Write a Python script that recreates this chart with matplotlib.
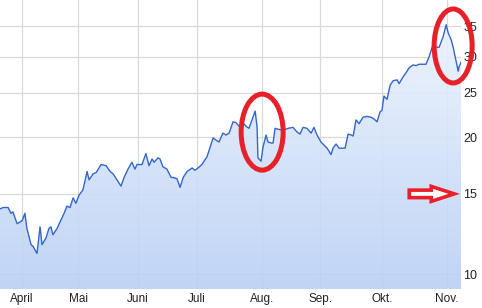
import numpy as np
import matplotlib
matplotlib.use("Agg")
import matplotlib.pyplot as plt
from matplotlib.colors import LinearSegmentedColormap
from matplotlib.patches import Polygon, Ellipse, FancyArrow
from matplotlib.transforms import IdentityTransform
from matplotlib.ticker import NullLocator

# Handelstage (Index ab Mitte März) und Schlusskurs
tage = [0.0, 1.1, 2.9, 3.9, 4.6, 6.1, 7.9, 8.9, 9.6, 11.1, 11.8, 13.2, 14.3, 15.0,
        16.4, 17.5, 18.2, 18.9, 20.4, 21.4, 22.9, 23.9, 25.0, 26.1, 27.1, 28.2,
        29.6, 31.1, 31.8, 33.2, 34.3, 36.1, 37.9, 39.3, 40.4, 43.2, 44.3, 45.7,
        47.1, 48.2, 48.9, 50.7, 52.1, 53.2, 54.3, 55.0, 56.4, 57.1, 58.2, 59.6,
        61.1, 61.8, 63.2, 64.3, 65.4, 66.8, 68.6, 69.6, 70.7, 72.1, 73.9, 76.1,
        77.1, 78.2, 79.6, 80.7, 81.8, 83.2, 84.3, 85.4, 86.8, 87.9, 88.9, 91.1,
        91.8, 92.1, 93.2, 93.9, 95.0, 95.7, 96.8, 97.5, 98.2, 99.3, 101.1, 102.9,
        104.6, 106.1, 107.1, 108.2, 109.6, 111.1, 112.1, 113.2, 114.6, 115.7,
        116.8, 118.2, 118.9, 120.0, 121.1, 122.5, 123.2, 124.3, 125.4, 126.1,
        127.1, 128.2, 129.6, 131.1, 132.5, 133.6, 134.6, 135.7, 136.4, 137.1,
        138.2, 139.3, 140.4, 141.8, 142.5, 143.9, 145.0, 146.1, 147.5, 148.6,
        149.6, 151.1, 152.1, 153.2, 154.6, 155.7, 156.8, 158.2, 159.3, 160.0,
        161.1, 161.8, 162.9, 163.6, 163.9, 164.6]
kurs = [13.9, 14.0, 14.0, 13.6, 13.7, 12.9, 13.1, 13.6, 12.6, 11.6, 11.5, 11.1, 12.7, 11.6,
        12.0, 12.6, 12.7, 12.2, 12.6, 13.0, 13.6, 14.1, 14.0, 14.7, 14.3, 14.9,
        15.3, 16.8, 16.1, 16.6, 16.7, 17.4, 17.3, 16.8, 16.6, 15.6, 16.3, 17.0,
        17.6, 17.0, 17.4, 17.4, 18.4, 17.3, 17.9, 17.6, 18.0, 17.9, 17.2, 17.0,
        16.3, 16.3, 16.2, 15.5, 16.3, 16.8, 17.1, 16.9, 17.1, 17.4, 18.1, 19.9,
        19.7, 19.5, 20.4, 20.2, 20.4, 21.6, 21.5, 21.1, 21.5, 21.1, 20.9, 22.8,
        21.0, 18.0, 17.7, 19.0, 20.2, 19.5, 19.4, 19.4, 20.9, 20.8, 20.7, 20.9,
        21.0, 20.5, 20.3, 21.0, 20.9, 20.4, 21.0, 20.2, 19.5, 19.2,
        18.9, 18.3, 18.9, 19.3, 18.9, 18.9, 18.9, 20.3, 20.2, 20.1,
        21.8, 21.4, 22.1, 22.2, 22.1, 21.9, 21.6, 22.7, 22.9, 24.6,
        24.2, 26.0, 26.6, 26.7, 26.2, 27.1, 27.7, 28.4, 28.8, 28.7,
        28.9, 28.9, 28.9, 30.0, 31.9, 31.5, 31.5, 33.2, 35.3, 33.9,
        32.7, 31.5, 29.2, 27.9, 28.5, 29.2]

monate = ["April", "Mai", "Juni", "Juli", "Aug.", "Sep.", "Okt.", "Nov."]
monat_pos = [7.9, 27.9, 49.3, 70.4, 93.6, 114.3, 136.4, 159.6]
y_ticks = [10, 15, 20, 25, 30, 35]

# Markierungen (Tag, Kurs)
kreis_aug = (93.6, 20.5)
kreis_nov = (161.8, 31.7)
pfeil_start = (145.4, 15)
pfeil_ende = (162.9, 15)

ROT = "#e8202a"

plt.rcParams['font.family'] = ['Liberation Sans', 'DejaVu Sans']

fig = plt.figure(figsize=(4.82, 3.08), dpi=100)
ax = fig.add_axes([0.0, 1 - 289 / 308, 461 / 482, 289 / 308])

ax.set_yscale("log")
ax.set_xlim(0, tage[-1])
ax.set_ylim(9.27, 40)

# Gitter
ax.set_axisbelow(True)
ax.grid(True, color="#d9d9d9", lw=0.9)

# Fläche mit Farbverlauf unter der Kurve
grad = np.linspace(0, 1, 256).reshape(-1, 1)
cmap = LinearSegmentedColormap.from_list("fl", ["#b9d0f5", "#f1f6fe"])
im = ax.imshow(grad, aspect="auto", cmap=cmap, extent=[0, 1, 0, 1],
               transform=ax.transAxes, origin="lower", zorder=1, alpha=0.9)
verts = list(zip(tage, kurs)) + [(tage[-1], 1), (tage[0], 1)]
flaeche = Polygon(verts, closed=True, transform=ax.transData,
                  facecolor="none", edgecolor="none")
ax.add_patch(flaeche)
im.set_clip_path(flaeche)

# Kurslinie
ax.plot(tage, kurs, color="#3366cc", lw=1.0, zorder=3)

ax.set_xlim(0, tage[-1])
ax.set_ylim(9.27, 40)

# Achsen
ax.set_xticks(monat_pos, labels=monate)
ax.yaxis.tick_right()
ax.set_yticks(y_ticks, labels=[str(v) for v in y_ticks])
ax.yaxis.set_minor_locator(NullLocator())
ax.tick_params(axis="x", length=0, pad=3, labelsize=8.5, labelcolor="#222222")
ax.tick_params(axis="y", length=0, pad=1.5, labelsize=9, labelcolor="#222222")
for s in ax.spines.values():
    s.set_visible(False)

# Rote Markierungen (in Pixeln gezeichnet)
for punkt, breite, hoehe in [(kreis_aug, 42, 76), (kreis_nov, 38, 74)]:
    cx, cy = ax.transData.transform(punkt)
    fig.add_artist(Ellipse((cx, cy), breite, hoehe, transform=IdentityTransform(),
                           facecolor="none", edgecolor=ROT, lw=3.6, zorder=10))

x0, y0 = ax.transData.transform(pfeil_start)
x1, y1 = ax.transData.transform(pfeil_ende)
fig.add_artist(FancyArrow(x0 + 2, y0, x1 - x0 - 4, 0, width=7.5, head_width=15,
                          head_length=23, length_includes_head=True,
                          transform=IdentityTransform(), facecolor="white",
                          edgecolor=ROT, lw=2.6, zorder=10))

fig.savefig("out.png", dpi=100)
